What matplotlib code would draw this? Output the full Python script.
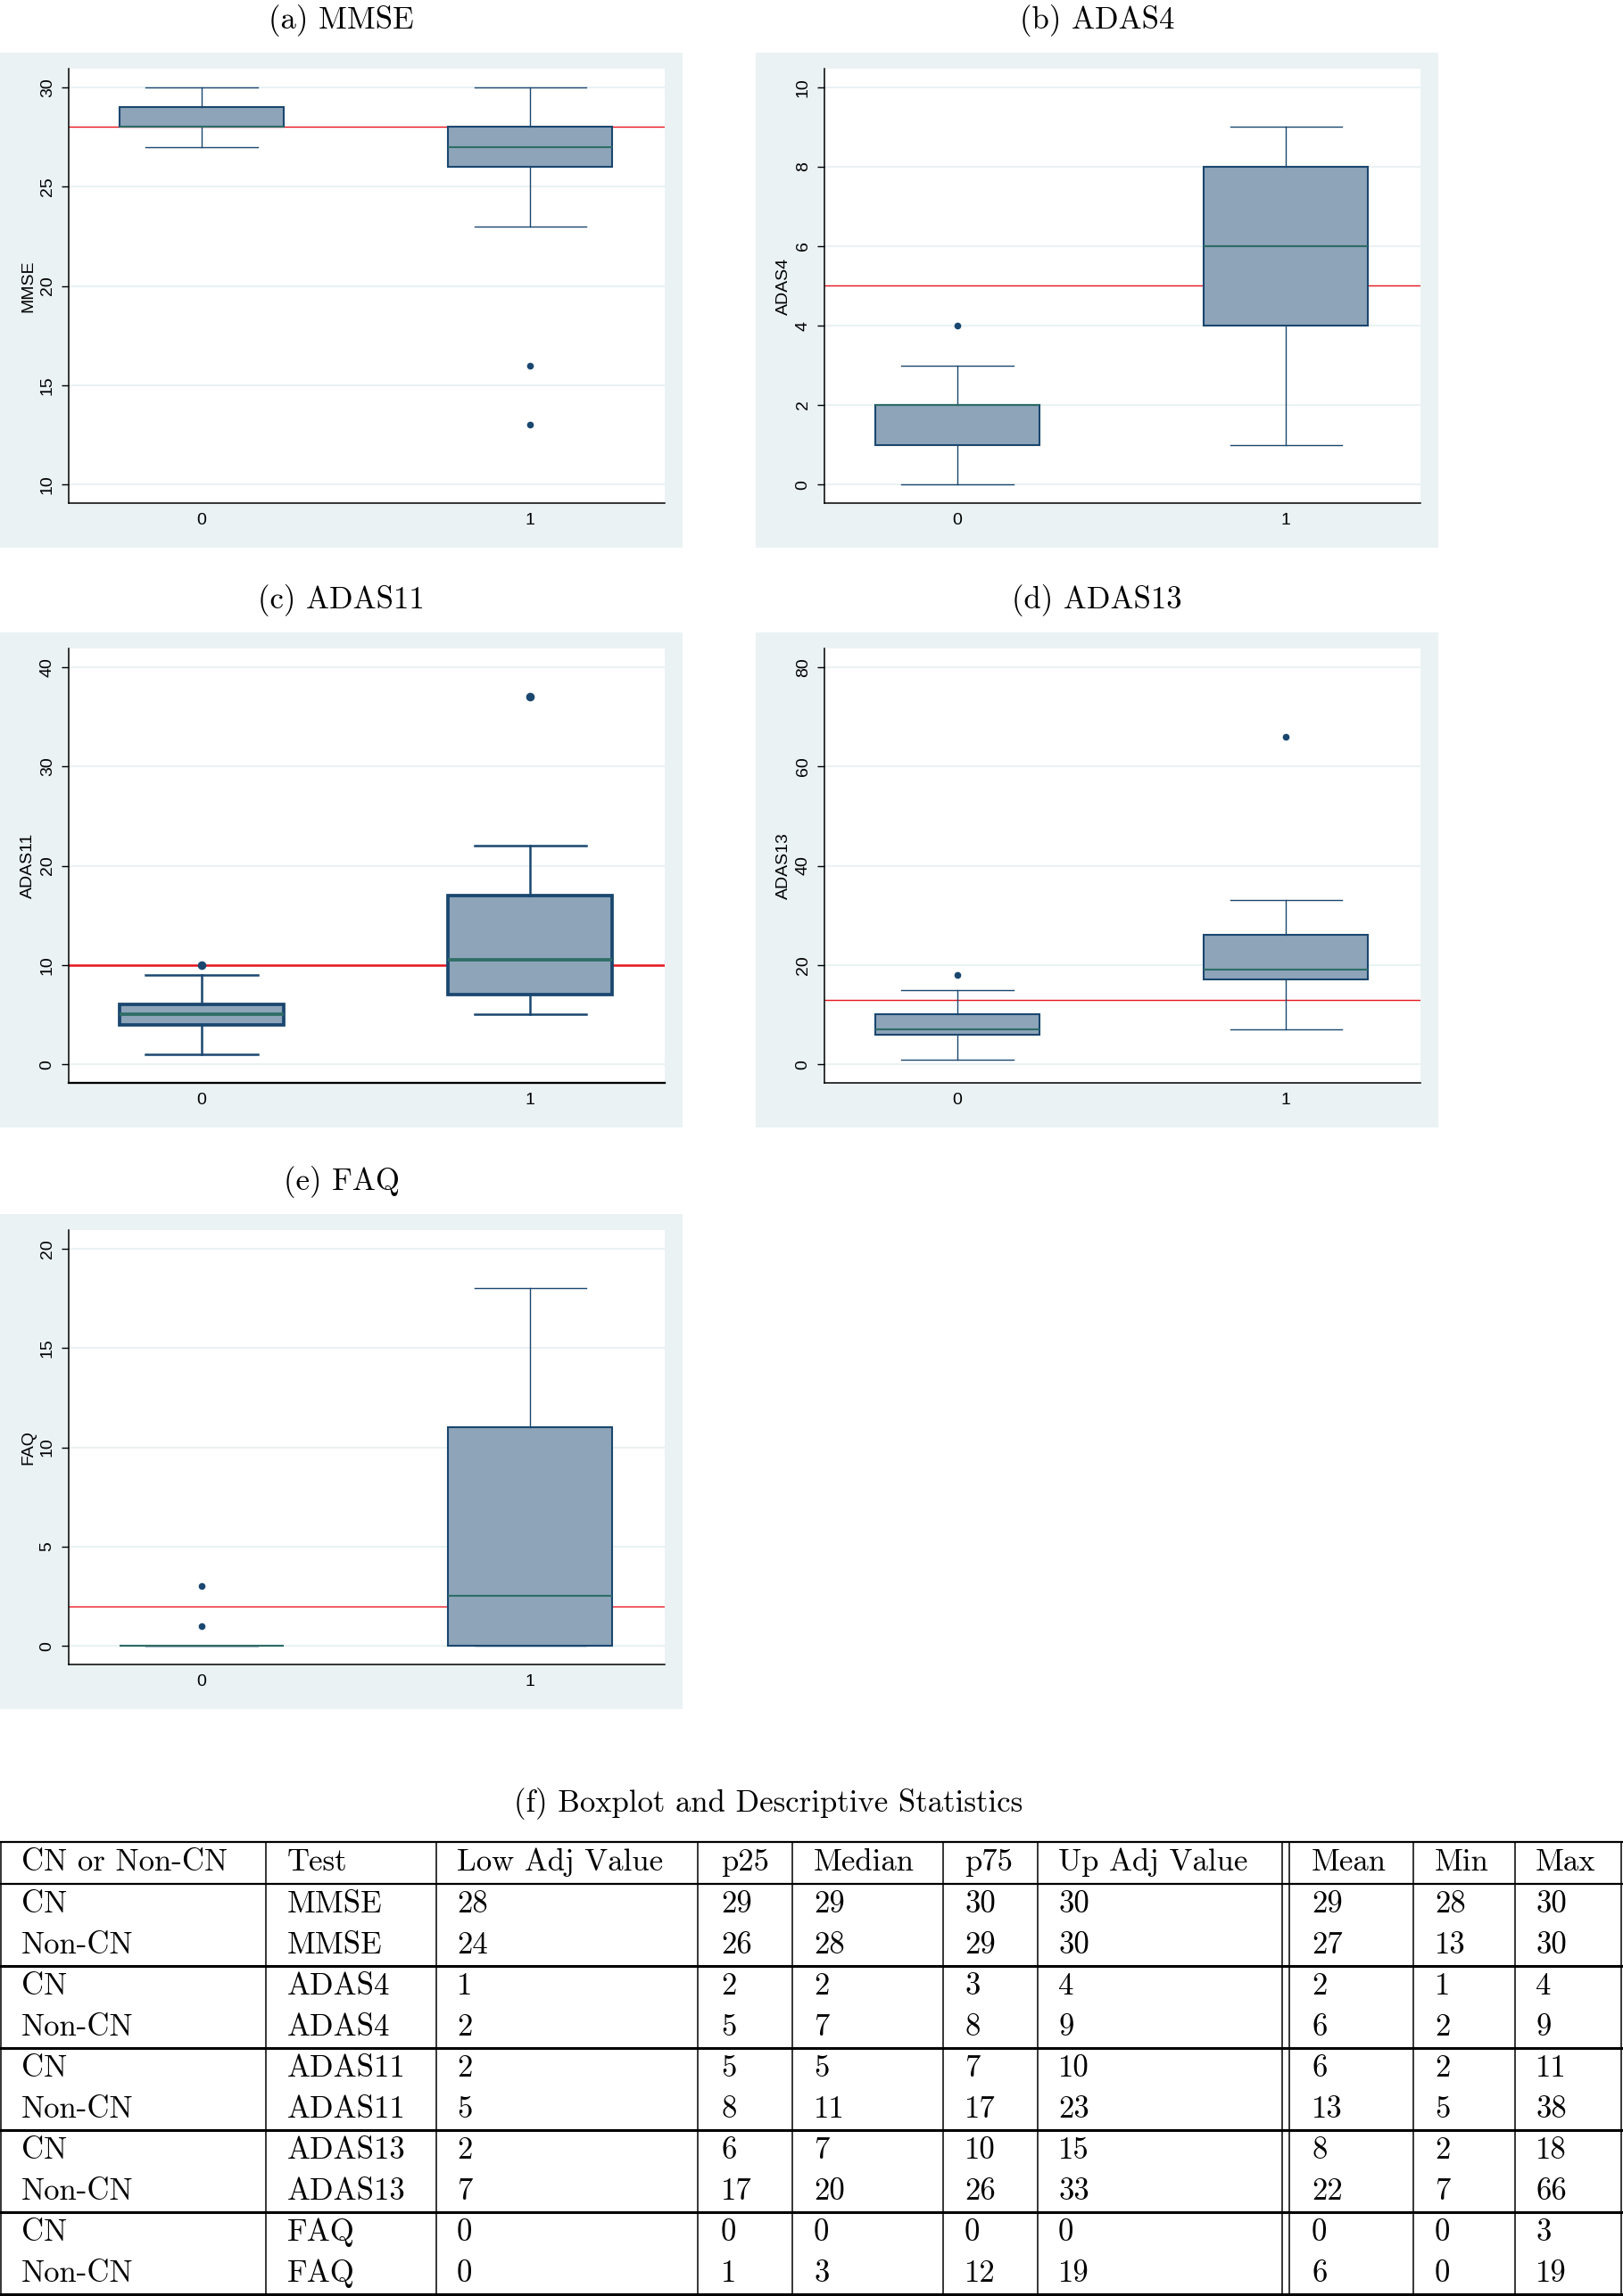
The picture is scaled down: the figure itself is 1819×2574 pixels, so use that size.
import matplotlib
matplotlib.use("Agg")
import matplotlib.pyplot as plt
from matplotlib.patches import Rectangle

W, H = 1819, 2574
SERIF = ["cmr10", "DejaVu Serif"]
SANS = ["Liberation Sans", "DejaVu Sans"]

# box summaries per group (0, 1): [low whisker, p25, median, p75, high whisker]
groups = ["0", "1"]
tests = ["MMSE", "ADAS4", "ADAS11", "ADAS13", "FAQ"]
titles = ["(a) MMSE", "(b) ADAS4", "(c) ADAS11", "(d) ADAS13", "(e) FAQ"]

mmse_box = [[27, 28, 28, 29, 30], [23, 26, 27, 28, 30]]
mmse_out = [[], [16, 13]]
mmse_cut = 28
mmse_ticks = [10, 15, 20, 25, 30]

adas4_box = [[0, 1, 2, 2, 3], [1, 4, 6, 8, 9]]
adas4_out = [[4], []]
adas4_cut = 5
adas4_ticks = [0, 2, 4, 6, 8, 10]

adas11_box = [[1, 4, 5, 6, 9], [5, 7, 10.5, 17, 22]]
adas11_out = [[10], [37]]
adas11_cut = 10
adas11_ticks = [0, 10, 20, 30, 40]

adas13_box = [[1, 6, 7, 10, 15], [7, 17, 19, 26, 33]]
adas13_out = [[18], [66]]
adas13_cut = 13
adas13_ticks = [0, 20, 40, 60, 80]

faq_box = [[0, 0, 0, 0, 0], [0, 0, 2.5, 11, 18]]
faq_out = [[3, 1], []]
faq_cut = 2
faq_ticks = [0, 5, 10, 15, 20]

# table (f)
col_names = ["CN or Non-CN", "Test", "Low Adj Value", "p25", "Median", "p75",
             "Up Adj Value", "Mean", "Min", "Max"]
status = ["CN", "Non-CN"] * 5
test_col = ["MMSE", "MMSE", "ADAS4", "ADAS4", "ADAS11", "ADAS11",
            "ADAS13", "ADAS13", "FAQ", "FAQ"]
low_adj = [28, 24, 1, 2, 2, 5, 2, 7, 0, 0]
p25 = [29, 26, 2, 5, 5, 8, 6, 17, 0, 1]
median = [29, 28, 2, 7, 5, 11, 7, 20, 0, 3]
p75 = [30, 29, 3, 8, 7, 17, 10, 26, 0, 12]
up_adj = [30, 30, 4, 9, 10, 23, 15, 33, 0, 19]
mean = [29, 27, 2, 6, 6, 13, 8, 22, 0, 6]
vmin = [28, 13, 1, 2, 2, 5, 2, 7, 0, 0]
vmax = [30, 30, 4, 9, 11, 38, 18, 66, 3, 19]

boxes = [mmse_box, adas4_box, adas11_box, adas13_box, faq_box]
outs = [mmse_out, adas4_out, adas11_out, adas13_out, faq_out]
cuts = [mmse_cut, adas4_cut, adas11_cut, adas13_cut, faq_cut]
ticks = [mmse_ticks, adas4_ticks, adas11_ticks, adas13_ticks, faq_ticks]

BG = "#EAF2F3"
NAVY = "#1A476F"
FILL = "#8DA4B9"
GREEN = "#2D6D66"
RED = "#E8141C"

fig = plt.figure(figsize=(W / 100, H / 100), dpi=100)

# overlay in pixel coords for backgrounds and the table
ov = fig.add_axes([0, 0, 1, 1], zorder=-1)
ov.set_xlim(0, W)
ov.set_ylim(H, 0)
ov.axis("off")

panel_x = [0, 847, 0, 847, 0]
panel_y = [59, 59, 709, 709, 1361]
pw, ph = 765, 555
lw_scale = [1.0, 1.0, 1.8, 1.0, 1.0]


def frac(x, y, w, h):
    return [x / W, 1 - (y + h) / H, w / W, h / H]


for i in range(5):
    x0, y0 = panel_x[i], panel_y[i]
    ov.add_patch(Rectangle((x0, y0), pw, ph, facecolor=BG, edgecolor="none"))
    ov.text(x0 + pw / 2, y0 - 36, titles[i], ha="center", va="center",
            fontsize=25, family=SERIF)

    ax = fig.add_axes(frac(x0 + 77, y0 + 18, 668, 487))
    ax.set_facecolor("white")
    s = lw_scale[i]
    stats = []
    for g in range(2):
        lo, q1, md, q3, hi = boxes[i][g]
        stats.append(dict(whislo=lo, q1=q1, med=md, q3=q3, whishi=hi,
                          fliers=outs[i][g], label=groups[g]))
    ax.axhline(cuts[i], color=RED, lw=1.0 * s, zorder=1.5)
    ax.bxp(stats, positions=[0, 1], widths=0.5, capwidths=0.34,
           patch_artist=True,
           boxprops=dict(facecolor=FILL, edgecolor=NAVY, lw=1.5 * s),
           whiskerprops=dict(color=NAVY, lw=1.0 * s),
           capprops=dict(color=NAVY, lw=1.0 * s),
           medianprops=dict(color=GREEN, lw=1.5 * s),
           flierprops=dict(marker="o", markerfacecolor=NAVY,
                           markeredgecolor=NAVY, markersize=4.5 * (1 + (s - 1) * 0.4)))
    t = ticks[i]
    pad = (t[-1] - t[0]) * 0.047
    ax.set_ylim(t[0] - pad, t[-1] + pad)
    ax.set_xlim(-0.405, 1.41)
    ax.set_yticks(t)
    ax.set_yticklabels([str(v) for v in t], family=SANS, fontsize=14, rotation=90,
                       va="center")
    ax.set_xticks([0, 1])
    ax.set_xticklabels(groups, family=SANS, fontsize=14)
    ax.tick_params(axis="y", length=6, width=1, pad=5)
    ax.tick_params(axis="x", length=0, pad=8)
    ax.yaxis.grid(True, color=BG, lw=1.5)
    ax.set_axisbelow(True)
    for side in ["top", "right"]:
        ax.spines[side].set_visible(False)
    ax.spines["left"].set_linewidth(1.1)
    ax.spines["bottom"].set_linewidth(1.1 * (1.5 if s > 1 else 1))
    ax.set_ylabel(tests[i], family=SANS, fontsize=14)
    ax.yaxis.set_label_coords(-37 / 668, 0.5)

# table
ov.text(861, 2022, "(f) Boxplot and Descriptive Statistics", ha="center",
        va="center", fontsize=25, family=SERIF)

col_lines = [1, 298, 489, 782, 888, 1057, 1163, 1437, 1445, 1584, 1698, 1817]
col_text = [24, 322, 512, 808, 912, 1081, 1186, 1470, 1608, 1721]
top, head_h, row_h = 2065, 47, 46
bottom = top + head_h + row_h * 10

for x in col_lines:
    ov.plot([x, x], [top, bottom], color="black", lw=1.1)
ov.plot([0, W], [top, top], color="black", lw=1.6)
ov.plot([0, W], [top + head_h, top + head_h], color="black", lw=1.6)
for k in range(1, 6):
    y = top + head_h + row_h * 2 * k
    ov.plot([0, W], [y, y], color="black", lw=2.2)

for c, name in enumerate(col_names):
    ov.text(col_text[c], top + 32, name, ha="left", va="baseline",
            fontsize=25, family=SERIF)

columns = [status, test_col, low_adj, p25, median, p75, up_adj, mean, vmin, vmax]
for r in range(10):
    yb = top + head_h + row_h * r + 32
    for c, col in enumerate(columns):
        ov.text(col_text[c], yb, str(col[r]), ha="left", va="baseline",
                fontsize=25, family=SERIF)

fig.savefig("out.png", dpi=100)
